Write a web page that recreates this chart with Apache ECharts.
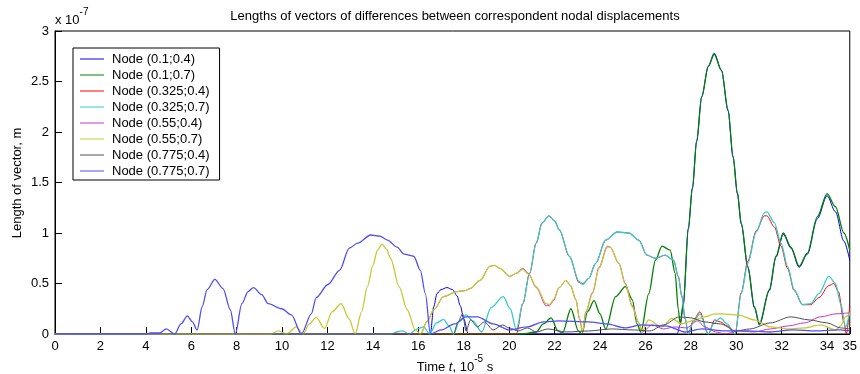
<!DOCTYPE html>
<html>
<head>
<meta charset="utf-8">
<script src="https://cdn.jsdelivr.net/npm/echarts@6/dist/echarts.min.js"></script>
<style>
  html, body { margin: 0; padding: 0; background: #fff; }
  #chart { width: 860px; height: 374px; }
</style>
</head>
<body>
<div id="chart"></div>
<script>
// Vector length of nodal displacement differences, in units of 1e-7 m, over time (1e-5 s)
const nodeNames = ['Node (0.1;0.4)', 'Node (0.1;0.7)', 'Node (0.325;0.4)', 'Node (0.325;0.7)',
                   'Node (0.55;0.4)', 'Node (0.55;0.7)', 'Node (0.775;0.4)', 'Node (0.775;0.7)'];
const nodeColors = ['#0000f0', '#008000', '#ff0000', '#33cccc', '#cc33cc', '#c8c832', '#505050', '#4f4ff5'];
// Lines drawn later sit on top; they are a touch wider so the curves underneath do not tint them
const nodeWidths = [1, 1.3, 1, 1.3, 1, 1.3, 1, 1.3];

const xTicks = [0, 2, 4, 6, 8, 10, 12, 14, 16, 18, 20, 22, 24, 26, 28, 30, 32, 34, 35];
const yTicks = [0, 0.5, 1, 1.5, 2, 2.5, 3];

const tN1 = [0, 16.53, 16.68, 16.82, 17.0, 17.26, 17.5, 17.7, 17.85, 18.0, 18.2, 27.4, 27.53, 27.67, 27.89, 28.07, 28.26, 28.48, 28.77, 29.03, 29.35, 29.64, 29.86, 30.05, 30.22, 30.51, 30.8, 31.02, 31.46, 31.75, 32.07, 32.41, 32.77, 33.13, 33.57, 34.0, 34.37, 34.74, 35];
const vN1 = [0, 0, 0.27, 0.40, 0.44, 0.46, 0.44, 0.38, 0.28, 0.15, 0.0, 0, 0.09, 0.29, 1.04, 1.44, 1.91, 2.35, 2.65, 2.78, 2.61, 2.21, 1.75, 1.39, 1.09, 0.66, 0.26, 0.09, 0.43, 0.76, 0.99, 0.85, 0.66, 0.79, 1.14, 1.37, 1.21, 0.92, 0.73];

const tN2 = [0, 20.6, 21.2, 21.5, 21.85, 22.15, 22.35, 22.72, 23.05, 23.2, 23.45, 23.74, 24.0, 24.25, 24.69, 25.12, 25.42, 25.63, 25.8, 26.15, 26.44, 26.73, 27.09, 27.31, 27.45, 27.53, 27.67, 27.89, 28.07, 28.26, 28.48, 28.77, 29.03, 29.35, 29.64, 29.86, 30.05, 30.22, 30.51, 30.8, 31.02, 31.46, 31.75, 32.07, 32.41, 32.77, 33.13, 33.57, 34.0, 34.37, 34.74, 35];
const vN2 = [0, 0, 0.02, 0.10, 0.16, 0.03, 0.01, 0.25, 0.03, 0.0, 0.22, 0.33, 0.20, 0.05, 0.37, 0.47, 0.34, 0.10, 0.02, 0.40, 0.73, 0.87, 0.83, 0.60, 0.24, 0.10, 0.30, 1.05, 1.45, 1.92, 2.35, 2.65, 2.77, 2.61, 2.22, 1.76, 1.40, 1.10, 0.67, 0.27, 0.10, 0.44, 0.77, 1.00, 0.86, 0.67, 0.80, 1.16, 1.39, 1.26, 1.00, 0.83];

const tN3 = [0, 20.32, 20.6, 20.9, 21.19, 21.45, 21.75, 22.0, 22.21, 22.65, 23.08, 23.25, 23.5, 23.81, 24.25, 24.76, 25.27, 25.71, 26.07, 26.44, 26.87, 27.24, 27.45, 27.6, 27.75, 27.89, 28.1, 28.4, 28.77, 29.05, 29.3, 29.6, 29.95, 30.22, 30.51, 30.88, 31.24, 31.35, 31.68, 31.97, 32.26, 32.55, 32.92, 33.28, 33.64, 34.08, 34.3, 34.5, 34.74, 34.85, 35];
const vN3 = [0, 0, 0.30, 0.60, 0.90, 1.10, 1.17, 1.12, 1.03, 0.77, 0.51, 0.50, 0.55, 0.70, 0.93, 1.01, 1.00, 0.93, 0.78, 0.75, 0.78, 0.73, 0.57, 0.38, 0.15, 0.0, 0.13, 0.22, 0.0, 0.14, 0.12, 0.08, 0.0, 0.41, 0.72, 1.02, 1.17, 1.17, 1.06, 0.87, 0.65, 0.43, 0.29, 0.29, 0.36, 0.48, 0.50, 0.42, 0.12, 0.0, 0.28];

const tN4 = [0, 14.8, 15.05, 15.3, 15.6, 15.95, 16.24, 16.5, 16.8, 17.11, 17.35, 17.55, 17.8, 18.1, 18.4, 18.79, 19.2, 19.74, 20.05, 20.32, 20.6, 20.9, 21.19, 21.45, 21.75, 22.0, 22.21, 22.65, 23.08, 23.25, 23.5, 23.81, 24.25, 24.76, 25.27, 25.71, 26.07, 26.44, 26.87, 27.24, 27.45, 27.6, 27.75, 27.89, 28.1, 28.4, 28.77, 29.0, 29.3, 29.6, 29.95, 30.22, 30.51, 30.88, 31.24, 31.35, 31.68, 31.97, 32.26, 32.55, 32.92, 33.28, 33.64, 34.08, 34.37, 34.6, 34.81, 35];
const vN4 = [0, 0, 0.02, 0.03, 0.0, 0.05, 0.07, 0.0, 0.11, 0.145, 0.08, 0.0, 0.12, 0.19, 0.13, 0.02, 0.26, 0.37, 0.25, 0.04, 0.30, 0.60, 0.90, 1.10, 1.17, 1.12, 1.03, 0.77, 0.52, 0.49, 0.55, 0.70, 0.93, 1.01, 1.00, 0.93, 0.78, 0.75, 0.78, 0.73, 0.57, 0.38, 0.15, 0.0, 0.12, 0.20, 0.0, 0.10, 0.16, 0.10, 0.0, 0.40, 0.70, 1.01, 1.20, 1.21, 1.10, 0.90, 0.67, 0.44, 0.29, 0.30, 0.40, 0.57, 0.50, 0.30, 0.07, 0.22];

const tN5 = [0, 16.1, 16.4, 16.68, 17.11, 17.7, 18.06, 18.28, 18.72, 19.15, 19.35, 19.59, 20.03, 20.3, 20.6, 20.85, 21.19, 21.63, 21.78, 21.95, 22.2, 22.5, 22.7, 22.94, 23.1, 23.23, 23.38, 23.67, 23.96, 24.32, 24.45, 24.83, 25.12, 25.42, 25.71, 25.85, 26.3, 26.8, 27.3, 27.8, 28.3, 28.62, 29.1, 29.5, 30.1, 30.8, 31.5, 32.3, 33.0, 33.72, 34.4, 35];
const vN5 = [0, 0, 0.13, 0.24, 0.37, 0.42, 0.43, 0.45, 0.53, 0.67, 0.68, 0.65, 0.57, 0.60, 0.65, 0.60, 0.46, 0.28, 0.28, 0.33, 0.46, 0.53, 0.48, 0.34, 0.15, 0.02, 0.22, 0.41, 0.66, 0.87, 0.86, 0.70, 0.50, 0.28, 0.11, 0.02, 0.09, 0.05, 0.07, 0.06, 0.13, 0.07, 0.02, 0.0, 0.03, 0.02, 0.05, 0.08, 0.11, 0.17, 0.20, 0.21];

const tN6 = [0, 9.5, 9.83, 10.2, 10.63, 10.92, 11.2, 11.5, 11.87, 12.2, 12.6, 12.95, 13.22, 13.5, 13.76, 14.0, 14.2, 14.4, 14.6, 14.78, 15.15, 15.51, 15.87, 16.1, 16.4, 16.68, 17.11, 17.7, 18.06, 18.28, 18.72, 19.15, 19.35, 19.59, 20.03, 20.3, 20.6, 20.85, 21.19, 21.63, 21.78, 21.95, 22.2, 22.5, 22.7, 22.94, 23.1, 23.23, 23.38, 23.67, 23.96, 24.32, 24.45, 24.83, 25.12, 25.42, 25.71, 25.85, 26.14, 26.73, 27.16, 27.6, 28.18, 28.62, 29.05, 29.35, 30.08, 30.8, 31.5, 32.3, 33.0, 33.72, 34.37, 34.6, 34.81, 35];
const vN6 = [0, 0, 0.03, 0.0, 0.07, 0.0, 0.10, 0.165, 0.055, 0.22, 0.30, 0.15, 0.0, 0.22, 0.47, 0.68, 0.83, 0.89, 0.84, 0.75, 0.47, 0.24, 0.04, 0.0, 0.13, 0.24, 0.37, 0.42, 0.43, 0.45, 0.53, 0.67, 0.68, 0.65, 0.57, 0.60, 0.64, 0.59, 0.47, 0.30, 0.29, 0.34, 0.46, 0.53, 0.48, 0.34, 0.15, 0.02, 0.22, 0.40, 0.65, 0.86, 0.86, 0.70, 0.49, 0.27, 0.11, 0.02, 0.14, 0.07, 0.155, 0.10, 0.14, 0.17, 0.20, 0.20, 0.19, 0.14, 0.07, 0.05, 0.06, 0.09, 0.04, 0.08, 0.17, 0.20];

const tN7 = [0, 17.55, 17.75, 17.95, 18.1, 18.3, 18.6, 18.9, 19.3, 19.7, 20.0, 20.4, 20.8, 21.2, 21.7, 22.5, 23.5, 24.5, 25.5, 26.2, 26.8, 27.5, 28.0, 28.6, 29.3, 30.0, 30.6, 31.5, 32.4, 33.2, 34.0, 34.6, 35];
const vN7 = [0, 0, 0.12, 0.20, 0.03, 0.14, 0.07, 0.12, 0.04, 0.09, 0.06, 0.03, 0.06, 0.02, 0.05, 0.02, 0.03, 0.05, 0.04, 0.03, 0.09, 0.17, 0.16, 0.12, 0.10, 0.03, 0.05, 0.11, 0.17, 0.14, 0.11, 0.06, 0.05];

const tN8 = [0, 4.0, 4.2, 4.6, 4.9, 5.27, 5.55, 5.83, 6.05, 6.26, 6.48, 6.7, 7.04, 7.4, 7.72, 7.94, 8.23, 8.5, 8.74, 9.1, 9.39, 9.98, 10.41, 10.85, 11.29, 11.5, 12.02, 12.53, 12.96, 13.33, 13.91, 14.3, 14.64, 15.07, 15.37, 15.8, 16.09, 16.31, 16.53, 17.0, 17.6, 18.1, 18.6, 19.3, 20.0, 20.8, 21.5, 22.2, 23.5, 24.3, 25.1, 25.85, 26.9, 27.75, 28.5, 29.5, 30.5, 31.5, 32.5, 33.5, 34.5, 35];
const vN8 = [0, 0, 0.01, 0.01, 0.05, 0.0, 0.10, 0.18, 0.12, 0.04, 0.27, 0.44, 0.54, 0.45, 0.24, 0.0, 0.30, 0.42, 0.46, 0.39, 0.30, 0.25, 0.19, 0.0, 0.20, 0.36, 0.49, 0.63, 0.85, 0.90, 0.98, 0.97, 0.93, 0.86, 0.79, 0.77, 0.63, 0.40, 0.0, 0.04, 0.10, 0.17, 0.17, 0.10, 0.04, 0.07, 0.12, 0.13, 0.12, 0.10, 0.06, 0.09, 0.08, 0.02, 0.05, 0.03, 0.03, 0.02, 0.04, 0.03, 0.04, 0.03];

const times = [tN1, tN2, tN3, tN4, tN5, tN6, tN7, tN8];
const values = [vN1, vN2, vN3, vN4, vN5, vN6, vN7, vN8];

const FONT = '"Liberation Sans", Arial, Helvetica, sans-serif';
const TEXT = '#000';

const series = nodeNames.map((name, i) => ({
  name: name,
  type: 'line',
  data: times[i].map((t, k) => [t, values[i][k]]),
  showSymbol: false,
  symbol: 'none',
  smooth: 0.3,
  smoothMonotone: 'x',
  color: nodeColors[i],
  lineStyle: { width: nodeWidths[i], color: nodeColors[i] },
  itemStyle: { color: nodeColors[i] },
  emphasis: { disabled: true },
  z: 2
}));

const chart = echarts.init(document.getElementById('chart'), null, { renderer: 'canvas' });

chart.setOption({
  animation: false,
  backgroundColor: '#fff',
  color: nodeColors,
  textStyle: { fontFamily: FONT },
  grid: {
    left: 55, top: 31, width: 801, height: 303,
    show: true, borderColor: '#000', borderWidth: 1, backgroundColor: '#fff'
  },
  xAxis: {
    type: 'value', min: 0, max: 35,
    axisLine: { show: true, lineStyle: { color: '#000', width: 1 } },
    axisTick: { show: true, inside: true, length: 7, customValues: xTicks, lineStyle: { color: '#000' } },
    axisLabel: { customValues: xTicks, color: TEXT, fontSize: 13, fontFamily: FONT, margin: 6 },
    splitLine: { show: false }
  },
  yAxis: {
    type: 'value', min: 0, max: 3, interval: 0.5,
    axisLine: { show: true, lineStyle: { color: '#000', width: 1 } },
    axisTick: { show: true, inside: true, length: 7, customValues: yTicks, lineStyle: { color: '#000' } },
    axisLabel: { customValues: yTicks, color: TEXT, fontSize: 13, fontFamily: FONT, margin: 6,
                 formatter: v => String(v) },
    splitLine: { show: false }
  },
  legend: {
    data: nodeNames,
    orient: 'vertical',
    left: 73, top: 48,
    icon: 'rect',
    itemWidth: 24, itemHeight: 1, itemGap: 0,
    padding: [3, 10, 1, 7],
    backgroundColor: '#fff', borderColor: '#000', borderWidth: 1, borderRadius: 0,
    selectedMode: false,
    textStyle: { color: TEXT, fontSize: 13, fontFamily: FONT, lineHeight: 16, padding: [0, 0, 0, 3] }
  },
  graphic: [
    {
      type: 'text', x: 455, y: 16, z: 10,
      style: { text: 'Lengths of vectors of differences between correspondent nodal displacements',
               fontSize: 13, fontFamily: FONT, fill: TEXT, align: 'center', verticalAlign: 'middle' }
    },
    {
      type: 'text', x: 55, y: 17, z: 10,
      style: {
        text: '{a|x 10}{s|-7}', align: 'left', verticalAlign: 'middle',
        rich: {
          a: { fontSize: 13, fontFamily: FONT, fill: TEXT, padding: [6, 0, 0, 0] },
          s: { fontSize: 10, fontFamily: FONT, fill: TEXT, verticalAlign: 'top' }
        }
      }
    },
    {
      type: 'text', x: 455, y: 364, z: 10,
      style: {
        text: '{a|Time }{i|t}{a|, 10}{s|-5}{a| s}', align: 'center', verticalAlign: 'middle',
        rich: {
          a: { fontSize: 13, fontFamily: FONT, fill: TEXT, padding: [6, 0, 0, 0] },
          i: { fontSize: 13, fontFamily: FONT, fontStyle: 'italic', fill: TEXT, padding: [6, 0, 0, 0] },
          s: { fontSize: 10, fontFamily: FONT, fill: TEXT, verticalAlign: 'top' }
        }
      }
    },
    {
      type: 'text', x: 17, y: 183, rotation: Math.PI / 2, z: 10,
      style: { text: 'Length of vector, m', fontSize: 13, fontFamily: FONT, fill: TEXT,
               align: 'center', verticalAlign: 'middle' }
    }
  ],
  series: series
});
</script>
</body>
</html>
